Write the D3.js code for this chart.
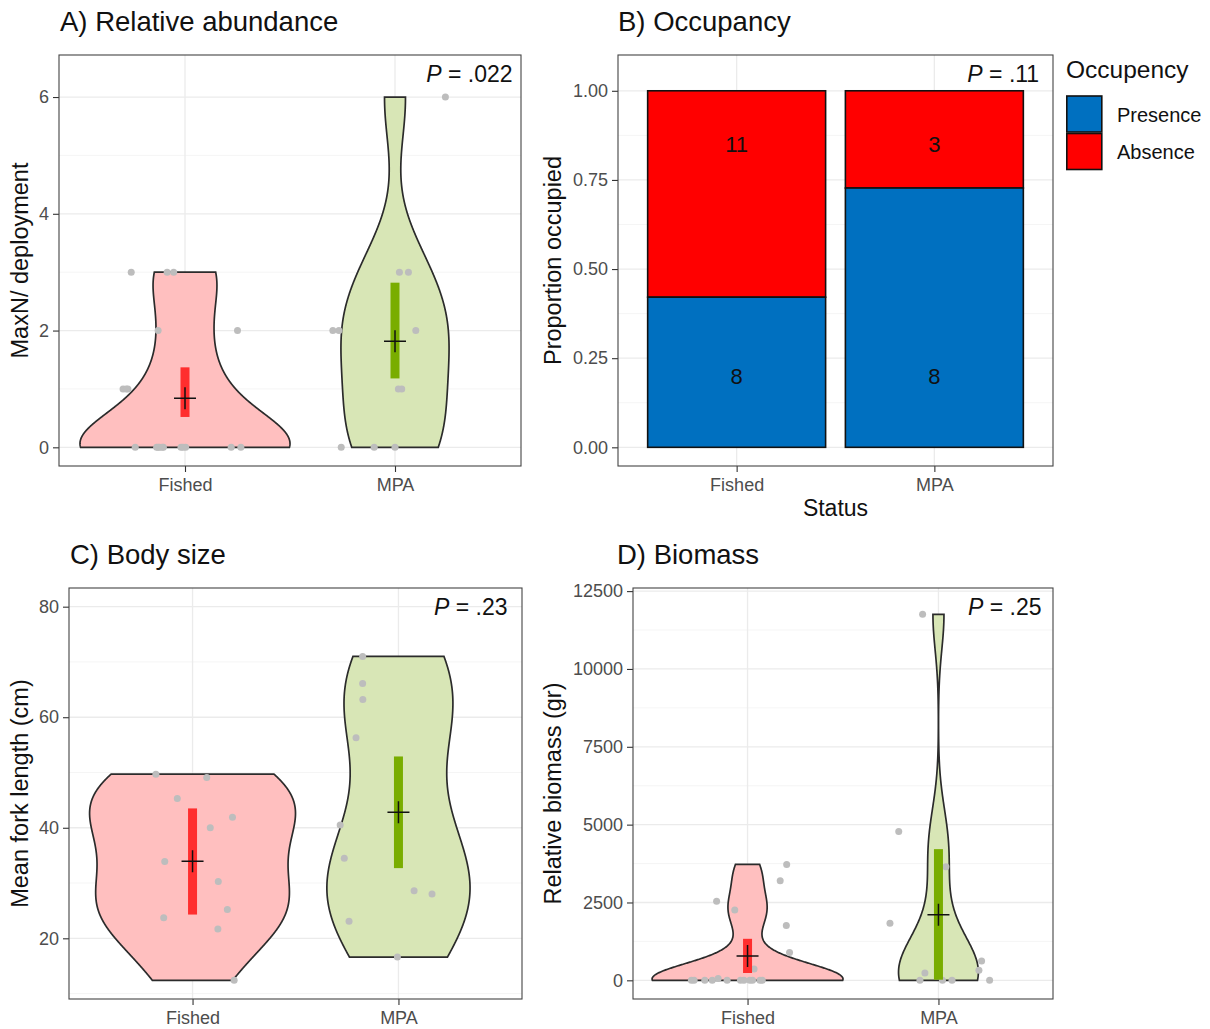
<!DOCTYPE html>
<html>
<head>
<meta charset="utf-8">
<script src="https://cdn.jsdelivr.net/npm/d3@7"></script>
<style>
body{margin:0;background:#fff;}
svg{font-family:"Liberation Sans", Arial, Helvetica, sans-serif;}
</style>
</head>
<body>
<svg id="fig" width="1210" height="1029"></svg>
<script>
const groups = ["Fished", "MPA"];

// A) relative abundance, MaxN per deployment (jitter = horizontal offset in category units)
const abundFished = [0,0,0,0,0,0,0,0,0,0,0, 1,1,1, 2,2, 3,3,3];
const abundFishedJit = [-0.237,-0.135,-0.122,-0.103,-0.019,0.003,0.22,0.266,-0.128,-0.01,-0.109,
                        -0.295,-0.272,-0.28, -0.128,0.25, -0.256,-0.085,-0.054];
const abundMPA = [0,0,0, 1,1, 2,2,2, 3,3, 6];
const abundMPAJit = [-0.256,-0.099,0.0, 0.016,0.032, -0.296,-0.267,0.099, 0.021,0.064, 0.24];
const abundCI = [[0.52, 1.37], [1.18, 2.82]];

// B) occupancy counts
const occPresence = [8, 8];
const occAbsence = [11, 3];
const occLabelY = [0.2, 0.85];   // y of the count labels (presence, absence)

// C) body size, mean fork length (cm)
const sizeFished = [49.7,49.1,45.3,41.9,40.0,33.9,30.3,25.2,23.7,21.7,12.4];
const sizeFishedJit = [-0.178,0.069,-0.074,0.194,0.086,-0.135,0.125,0.169,-0.14,0.123,0.202];
const sizeMPA = [71.0,66.1,63.2,56.3,40.5,34.5,28.6,28.0,23.1,16.6];
const sizeMPAJit = [-0.174,-0.174,-0.173,-0.206,-0.283,-0.263,0.076,0.163,-0.24,-0.005];
const sizeCI = [[24.3, 43.5], [32.7, 52.9]];

// D) relative biomass (gr)
const massFished = [0,0,0,0,0,0,0,0,0,0,0, 60,363,896,1760,2261,2538,3200,3722];
const massFishedJit = [-0.294,-0.28,-0.224,-0.185,-0.107,-0.037,-0.019,0.026,0.065,0.077,0.012,
                       -0.154,0.034,0.22,0.203,-0.067,-0.162,0.171,0.205];
const massMPA = [0,0,0,0,235,320,619,1834,3647,4778,11753];
const massMPAJit = [-0.097,0.021,0.071,0.268,-0.071,0.212,0.226,-0.254,0.039,-0.208,-0.083];
const massCI = [[235, 1333], [20, 4213]];

// p-values and where they sit (x in category units, y in data units)
const pLabels = [".022", ".11", ".23", ".25"];
const pPosX = [2.56, 2.53, 2.53, 2.54];
const pPosY = [6.4, 1.048, 80, 12000];

const fillViolin = ["#FFBFBF", "#D8E6B6"];
const fillCI = ["#FF2E2E", "#79AD00"];
const occColors = {Presence: "#0070C0", Absence: "#FF0000"};

const svg = d3.select("#fig");

// ---- helpers ----
function nrd0(v) {
  const s = v.slice().sort(d3.ascending);
  const sd = d3.deviation(s);
  const iqr = d3.quantile(s, 0.75) - d3.quantile(s, 0.25);
  let lo = Math.min(sd, iqr / 1.34);
  if (!lo) lo = sd || Math.abs(s[0]) || 1;
  return 0.9 * lo * Math.pow(s.length, -0.2);
}

function kde(v, n) {
  const bw = nrd0(v);
  const [a, b] = d3.extent(v);
  const out = [];
  for (let i = 0; i < n; i++) {
    const t = a + (b - a) * i / (n - 1);
    let s = 0;
    v.forEach(xi => { const z = (t - xi) / bw; s += Math.exp(-0.5 * z * z); });
    out.push([t, s / (v.length * bw * Math.sqrt(2 * Math.PI))]);
  }
  return out;
}

function frame(g, x, y, o) {
  // minor grid between major ticks
  const dom = y.domain();
  const step = o.ticks[1] - o.ticks[0];
  const minor = d3.range(o.ticks[0] - step / 2, dom[1], step).filter(d => d > dom[0] && d < dom[1]);
  g.append("g").selectAll("line").data(minor).join("line")
    .attr("x1", o.left).attr("x2", o.right)
    .attr("y1", d => y(d)).attr("y2", d => y(d))
    .attr("stroke", "#f2f2f2").attr("stroke-width", 0.8);
  g.append("g").selectAll("line").data(o.ticks).join("line")
    .attr("x1", o.left).attr("x2", o.right)
    .attr("y1", d => y(d)).attr("y2", d => y(d))
    .attr("stroke", "#ebebeb").attr("stroke-width", 1.3);
  g.append("g").selectAll("line").data(groups).join("line")
    .attr("x1", d => x(d)).attr("x2", d => x(d))
    .attr("y1", o.top).attr("y2", o.bottom)
    .attr("stroke", "#ebebeb").attr("stroke-width", 1.3);
}

function axes(g, x, y, o) {
  const ya = g.append("g").attr("transform", `translate(${o.left},0)`)
    .call(d3.axisLeft(y).tickValues(o.ticks).tickFormat(o.fmt || d3.format("d")).tickSize(6).tickPadding(4));
  const xa = g.append("g").attr("transform", `translate(0,${o.bottom})`)
    .call(d3.axisBottom(x).tickSize(6).tickPadding(6));
  [ya, xa].forEach(a => {
    a.select(".domain").remove();
    a.selectAll(".tick line").attr("stroke", "#333").attr("stroke-width", 1.1);
    a.selectAll(".tick text").attr("fill", "#4d4d4d").style("font-size", "18px");
  });
  g.append("rect").attr("x", o.left).attr("y", o.top)
    .attr("width", o.right - o.left).attr("height", o.bottom - o.top)
    .attr("fill", "none").attr("stroke", "#444").attr("stroke-width", 1.1);
  g.append("text").attr("x", o.titleX).attr("y", o.top - 24)
    .style("font-size", "27.5px").attr("fill", "#111").text(o.title);
  g.append("text")
    .attr("transform", `translate(${o.ytitleX},${(o.top + o.bottom) / 2}) rotate(-90)`)
    .attr("text-anchor", "middle").style("font-size", "23.5px").attr("fill", "#111")
    .text(o.ytitle);
  const p = g.append("text").attr("x", x.range()[0] + (o.pX - 0.4) * x.step())
    .attr("y", y(o.pY)).attr("dy", "0.35em").attr("text-anchor", "end")
    .style("font-size", "23px").attr("fill", "#111");
  p.append("tspan").style("font-style", "italic").text("P");
  p.append("tspan").text(" = " + o.p);
}

function violinPanel(o) {
  const g = svg.append("g");
  const x = d3.scalePoint().domain(groups).range([o.left, o.right]).padding(0.6);
  const all = o.values.flat().concat([o.pY]);
  const lo = d3.min(all), hi = d3.max(all), pad = (hi - lo) * 0.05;
  const y = d3.scaleLinear().domain([lo - pad, hi + pad]).range([o.bottom, o.top]);
  frame(g, x, y, o);

  const dens = o.values.map(v => kde(v, 512));
  const maxD = d3.max(dens, d => d3.max(d, e => e[1]));
  const half = 0.5 * x.step();   // violin width = 1 category unit
  groups.forEach((grp, i) => {
    const cx = x(grp);
    const area = d3.area()
      .y(d => y(d[0]))
      .x0(d => cx - half * d[1] / maxD)
      .x1(d => cx + half * d[1] / maxD);
    g.append("path").attr("d", area(dens[i]))
      .attr("fill", fillViolin[i]).attr("stroke", "#2b2b2b").attr("stroke-width", 1.7);
  });
  groups.forEach((grp, i) => {
    g.append("g").selectAll("circle").data(o.values[i]).join("circle")
      .attr("cx", (d, j) => x(grp) + o.jitter[i][j] * x.step())
      .attr("cy", d => y(d)).attr("r", 3.5).attr("fill", "#bdbdbd");
  });
  groups.forEach((grp, i) => {
    const cx = x(grp), [c0, c1] = o.ci[i];
    g.append("rect").attr("x", cx - 4.5).attr("width", 9)
      .attr("y", y(c1)).attr("height", y(c0) - y(c1)).attr("fill", fillCI[i]);
    const m = d3.mean(o.values[i]);
    g.append("path")
      .attr("d", `M${cx - 11},${y(m)}h22M${cx},${y(m) - 11}v22`)
      .attr("stroke", "#111").attr("stroke-width", 1.5);
  });
  axes(g, x, y, o);
}

// A
violinPanel({
  left: 59, right: 521, top: 55, bottom: 466, titleX: 60,
  title: "A) Relative abundance", ytitle: "MaxN/ deployment", ytitleX: 28,
  values: [abundFished, abundMPA], jitter: [abundFishedJit, abundMPAJit], ci: abundCI,
  ticks: [0, 2, 4, 6], p: pLabels[0], pX: pPosX[0], pY: pPosY[0]
});
// C
violinPanel({
  left: 69, right: 522, top: 588, bottom: 999, titleX: 70,
  title: "C) Body size", ytitle: "Mean fork length (cm)", ytitleX: 28,
  values: [sizeFished, sizeMPA], jitter: [sizeFishedJit, sizeMPAJit], ci: sizeCI,
  ticks: [20, 40, 60, 80], p: pLabels[2], pX: pPosX[2], pY: pPosY[2]
});
// D
violinPanel({
  left: 633, right: 1053, top: 588, bottom: 999, titleX: 617,
  title: "D) Biomass", ytitle: "Relative biomass (gr)", ytitleX: 561,
  values: [massFished, massMPA], jitter: [massFishedJit, massMPAJit], ci: massCI,
  ticks: [0, 2500, 5000, 7500, 10000, 12500], p: pLabels[3], pX: pPosX[3], pY: pPosY[3]
});

// B) stacked proportion bars
(function () {
  const o = {
    left: 618, right: 1053, top: 55, bottom: 466, titleX: 618,
    title: "B) Occupancy", ytitle: "Proportion occupied", ytitleX: 561,
    ticks: [0, 0.25, 0.5, 0.75, 1], fmt: d3.format(".2f"),
    p: pLabels[1], pX: pPosX[1], pY: pPosY[1]
  };
  const g = svg.append("g");
  const x = d3.scalePoint().domain(groups).range([o.left, o.right]).padding(0.6);
  const pad = o.pY * 0.05;
  const y = d3.scaleLinear().domain([-pad, o.pY + pad]).range([o.bottom, o.top]);
  frame(g, x, y, o);

  const rows = groups.map((grp, i) => {
    const n = occPresence[i] + occAbsence[i];
    return {grp, pres: occPresence[i] / n, presN: occPresence[i], absN: occAbsence[i]};
  });
  const bw = 0.9 * x.step();
  rows.forEach(r => {
    g.append("rect").attr("x", x(r.grp) - bw / 2).attr("width", bw)
      .attr("y", y(1)).attr("height", y(r.pres) - y(1))
      .attr("fill", occColors.Absence).attr("stroke", "#111").attr("stroke-width", 1.6);
    g.append("rect").attr("x", x(r.grp) - bw / 2).attr("width", bw)
      .attr("y", y(r.pres)).attr("height", y(0) - y(r.pres))
      .attr("fill", occColors.Presence).attr("stroke", "#111").attr("stroke-width", 1.6);
    [[r.presN, occLabelY[0]], [r.absN, occLabelY[1]]].forEach(([t, ly]) => {
      g.append("text").attr("x", x(r.grp)).attr("y", y(ly)).attr("dy", "0.35em")
        .attr("text-anchor", "middle").style("font-size", "22px").attr("fill", "#111").text(t);
    });
  });
  axes(g, x, y, o);
  g.append("text").attr("x", (o.left + o.right) / 2).attr("y", 516)
    .attr("text-anchor", "middle").style("font-size", "23px").attr("fill", "#111").text("Status");

  // legend
  const lg = svg.append("g").attr("transform", "translate(1066,0)");
  lg.append("text").attr("x", 0).attr("y", 78).style("font-size", "24.5px").attr("fill", "#111").text("Occupency");
  Object.keys(occColors).forEach((k, i) => {
    lg.append("rect").attr("x", 0.8).attr("y", 96 + i * 37.5).attr("width", 35).attr("height", 36)
      .attr("fill", occColors[k]).attr("stroke", "#111").attr("stroke-width", 1.6);
    lg.append("text").attr("x", 51).attr("y", 96 + i * 37.5 + 18.5).attr("dy", "0.35em")
      .style("font-size", "20px").attr("fill", "#111").text(k);
  });
})();
</script>
</body>
</html>
